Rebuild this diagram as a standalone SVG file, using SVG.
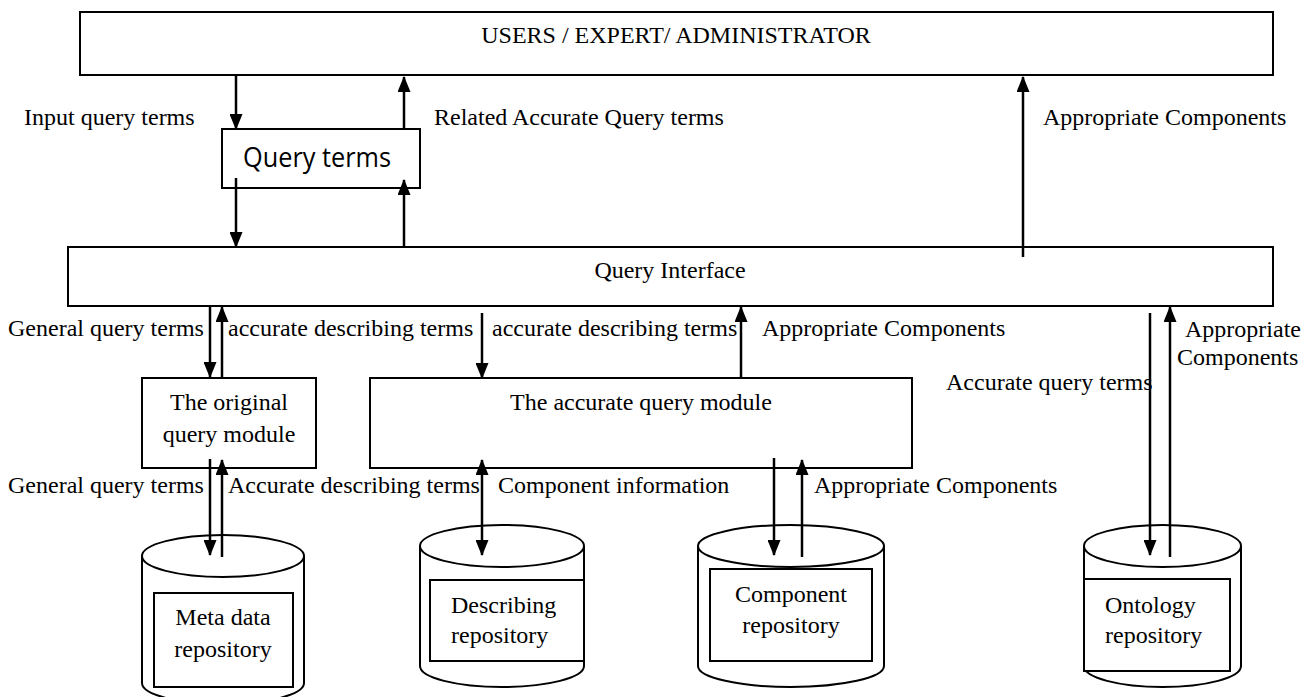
<svg xmlns="http://www.w3.org/2000/svg" width="1312" height="697" viewBox="0 0 1312 697">
<style>
.box{fill:#fff;stroke:#000;stroke-width:2}
.cyl{fill:#fff;stroke:#000;stroke-width:2}
.t{font-family:"Liberation Serif","Times New Roman",serif;font-size:24px;fill:#000}
.m{text-anchor:middle}
.s{font-family:"Open Sans","Noto Sans","Liberation Sans",sans-serif;font-size:27px;fill:#000}
.c line{stroke:#000;stroke-width:2.5}
</style>
<defs>
<marker id="ah" viewBox="0 0 16 13" refX="15" refY="6.5" markerWidth="16" markerHeight="13" markerUnits="userSpaceOnUse" orient="auto-start-reverse">
<path d="M0,0 L16,6.5 L0,13 z" fill="#000"/>
</marker>
</defs>
<rect width="1312" height="697" fill="#fff"/>

<g id="users">
<rect class="box" x="80" y="12" width="1193" height="63"/>
<text class="t m" x="676" y="43">USERS / EXPERT/ ADMINISTRATOR</text>
</g>

<g id="query-terms">
<rect class="box" x="222" y="129" width="198" height="59"/>
<text class="s" x="243" y="167" textLength="148" lengthAdjust="spacingAndGlyphs">Query terms</text>
</g>

<g id="query-interface">
<rect class="box" x="68" y="247" width="1205" height="59"/>
<text class="t m" x="670" y="278">Query Interface</text>
</g>

<g id="original-module">
<rect class="box" x="142" y="378" width="174" height="90"/>
<text class="t m" x="229" y="410">The original</text>
<text class="t m" x="229" y="442">query module</text>
</g>

<g id="accurate-module">
<rect class="box" x="370" y="378" width="542" height="90"/>
<text class="t m" x="641" y="410">The accurate query module</text>
</g>

<g id="meta-repo">
<path class="cyl" d="M142,556 L142,683 A81,21 0 0 0 304,683 L304,556"/>
<ellipse class="cyl" cx="223" cy="556" rx="81" ry="21"/>
<rect class="box" x="154" y="593" width="139" height="94"/>
<text class="t m" x="223" y="625">Meta data</text>
<text class="t m" x="223" y="657">repository</text>
</g>

<g id="describing-repo">
<path class="cyl" d="M420,546 L420,666 A82,21 0 0 0 584,666 L584,546"/>
<ellipse class="cyl" cx="502" cy="546" rx="82" ry="21"/>
<rect class="box" x="430" y="580" width="154" height="81"/>
<text class="t" x="451" y="613">Describing</text>
<text class="t" x="451" y="643">repository</text>
</g>

<g id="component-repo">
<path class="cyl" d="M698,546 L698,666 A93,21 0 0 0 884,666 L884,546"/>
<ellipse class="cyl" cx="791" cy="546" rx="93" ry="21"/>
<rect class="box" x="710" y="569" width="162" height="92"/>
<text class="t m" x="791" y="602">Component</text>
<text class="t m" x="791" y="633">repository</text>
</g>

<g id="ontology-repo">
<path class="cyl" d="M1084,546 L1084,666 A78.5,21 0 0 0 1241,666 L1241,546"/>
<ellipse class="cyl" cx="1162.5" cy="546" rx="78.5" ry="21"/>
<rect class="box" x="1084" y="579" width="146" height="92"/>
<text class="t" x="1105" y="613">Ontology</text>
<text class="t" x="1105" y="643">repository</text>
</g>

<g id="connectors" class="c">
<line x1="236" y1="75" x2="236" y2="129" marker-end="url(#ah)"/>
<line x1="404" y1="129" x2="404" y2="77" marker-end="url(#ah)"/>
<line x1="236" y1="178" x2="236" y2="247" marker-end="url(#ah)"/>
<line x1="404" y1="247" x2="404" y2="180" marker-end="url(#ah)"/>
<line x1="1023" y1="257" x2="1023" y2="77" marker-end="url(#ah)"/>
<line x1="210" y1="306" x2="210" y2="377" marker-end="url(#ah)"/>
<line x1="222" y1="378" x2="222" y2="307" marker-end="url(#ah)"/>
<line x1="482" y1="313" x2="482" y2="378" marker-end="url(#ah)"/>
<line x1="741" y1="378" x2="741" y2="307" marker-end="url(#ah)"/>
<line x1="1150" y1="313" x2="1150" y2="555" marker-end="url(#ah)"/>
<line x1="1170" y1="557" x2="1170" y2="307" marker-end="url(#ah)"/>
<line x1="210" y1="459" x2="210" y2="555" marker-end="url(#ah)"/>
<line x1="222" y1="557" x2="222" y2="460" marker-end="url(#ah)"/>
<line x1="482" y1="460" x2="482" y2="555" marker-start="url(#ah)" marker-end="url(#ah)"/>
<line x1="774" y1="458" x2="774" y2="555" marker-end="url(#ah)"/>
<line x1="802" y1="557" x2="802" y2="460" marker-end="url(#ah)"/>
</g>

<g id="labels">
<text class="t" x="24" y="125">Input query terms</text>
<text class="t" x="434" y="125">Related Accurate Query terms</text>
<text class="t" x="1043" y="125">Appropriate Components</text>
<text class="t" x="8" y="336">General query terms</text>
<text class="t" x="228" y="336">accurate describing terms</text>
<text class="t" x="492" y="336">accurate describing terms</text>
<text class="t" x="762" y="336">Appropriate Components</text>
<text class="t" x="1185" y="337">Appropriate</text>
<text class="t" x="1177" y="365">Components</text>
<text class="t" x="946" y="390">Accurate query terms</text>
<text class="t" x="8" y="493">General query terms</text>
<text class="t" x="228" y="493">Accurate describing terms</text>
<text class="t" x="498" y="493">Component information</text>
<text class="t" x="814" y="493">Appropriate Components</text>
</g>
</svg>
